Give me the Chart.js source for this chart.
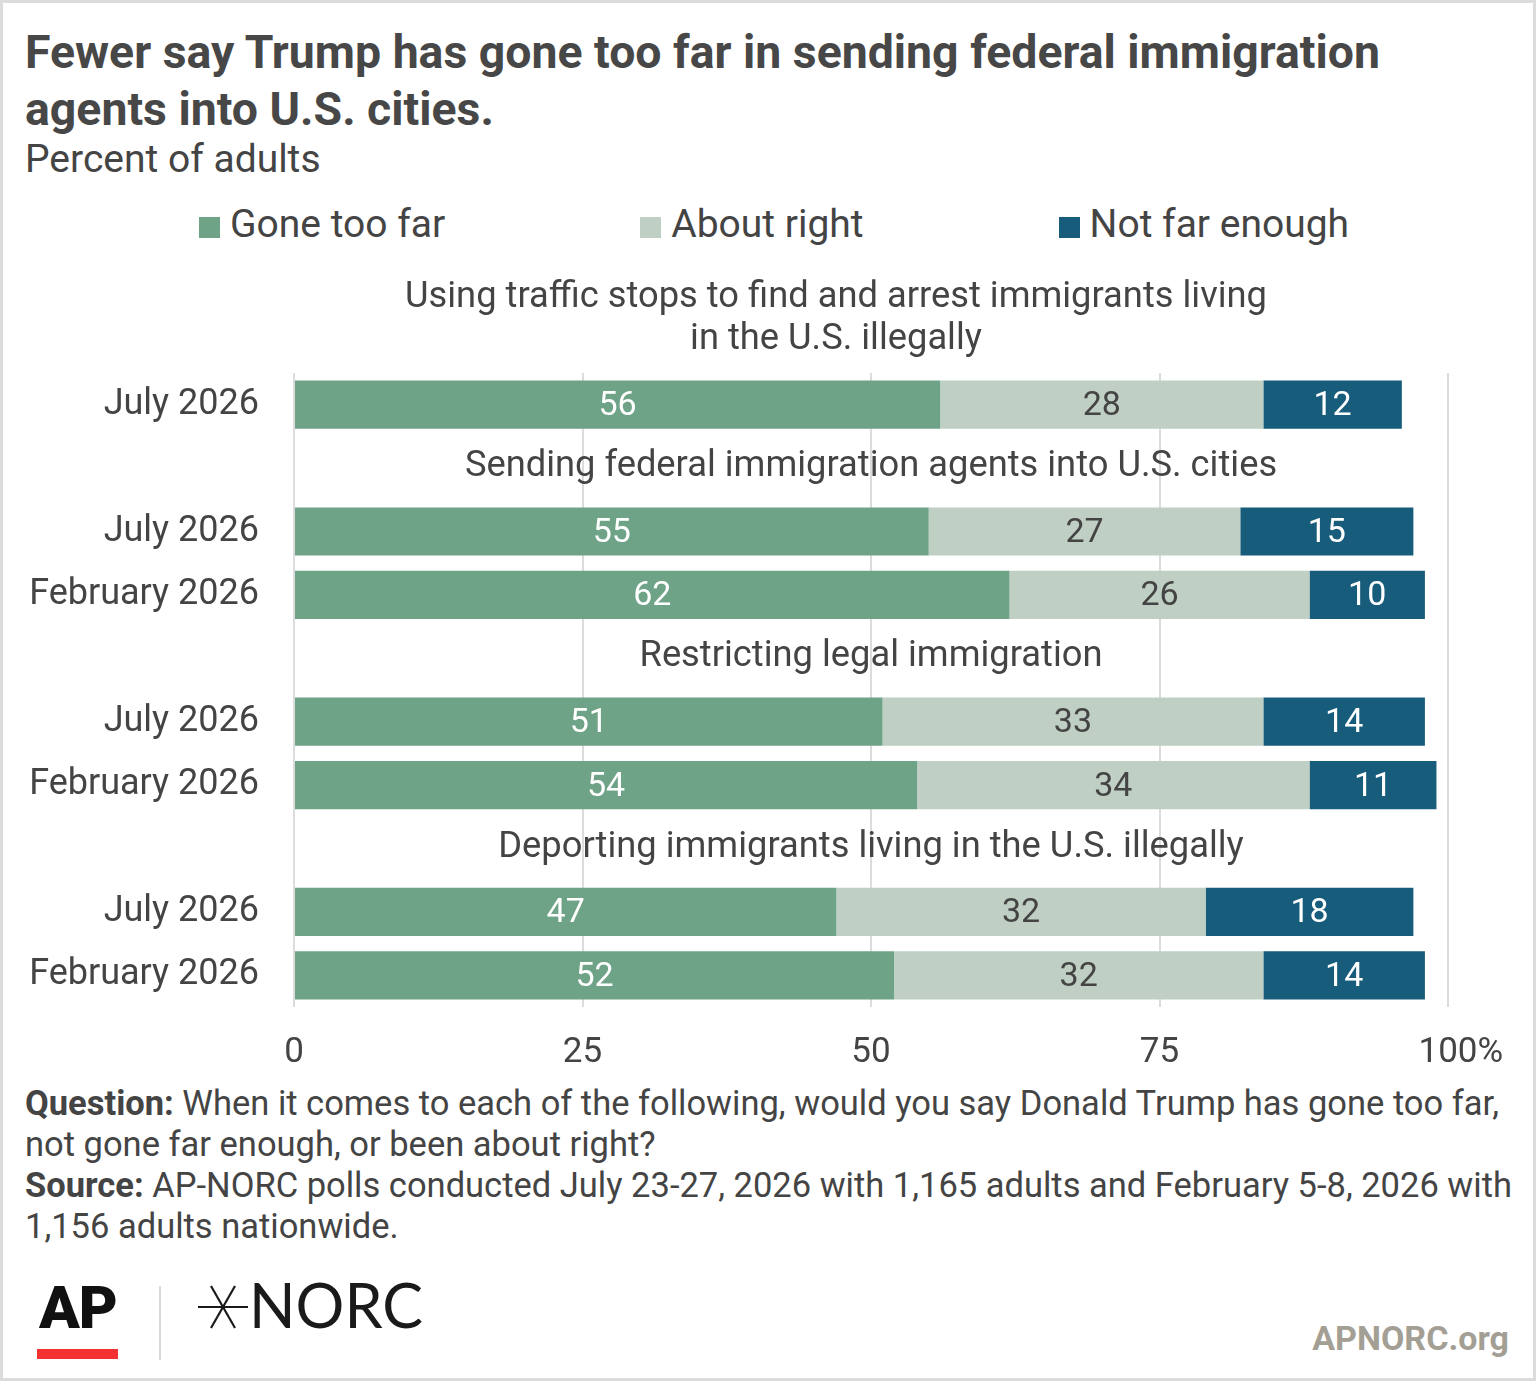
<!DOCTYPE html>
<html>
<head>
    <title>Fewer say Trump has gone too far</title>
    <script src="https://cdn.jsdelivr.net/npm/chart.js"></script>
    <style>
        body {
            margin: 0;
            background: #fff;
            font-family: Roboto, sans-serif;
            color: #444;
        }

        #card {
            position: relative;
            width: 1536px;
            height: 1381px;
            overflow: hidden;
            background: #fff;
        }

        #frame {
            position: absolute;
            left: 0; top: 0; right: 0; bottom: 0;
            border: 3px solid #dcdcdc;
            box-sizing: border-box;
            pointer-events: none;
        }

        h1 {
            position: absolute;
            left: 25px;
            top: 24px;
            margin: 0;
            font-size: 46.4px;
            line-height: 57px;
            font-weight: 700;
            color: #474747;
            white-space: nowrap;
        }

        .sub {
            position: absolute;
            left: 25px;
            top: 137px;
            font-size: 39px;
            line-height: 44px;
        }

        #legend {
            position: absolute;
            top: 202px;
            left: 199px;
            display: flex;
            gap: 195px;
            font-size: 39px;
            line-height: 44px;
            white-space: nowrap;
        }

        #legend span.box {
            display: inline-block;
            width: 21px;
            height: 21px;
            margin-right: 10px;
            vertical-align: -1px;
        }

        #chart {
            position: absolute;
            left: 0;
            top: 270px;
        }

        .notes {
            position: absolute;
            left: 25px;
            top: 1083px;
            font-size: 34.5px;
            line-height: 41px;
            white-space: nowrap;
        }

        .notes b { font-weight: 700; }

        .ap {
            position: absolute;
            left: 39px;
            top: 1278px;
            font-size: 60px;
            line-height: 60px;
            font-weight: 900;
            letter-spacing: -1px;
            color: #111;
        }

        .apbar {
            position: absolute;
            left: 37px;
            top: 1349px;
            width: 81px;
            height: 10px;
            background: #f43131;
        }

        .vline {
            position: absolute;
            left: 159px;
            top: 1286px;
            width: 2px;
            height: 74px;
            background: #d8d8d8;
        }

        .star {
            position: absolute;
            left: 198px;
            top: 1285px;
        }

        .norc {
            position: absolute;
            left: 249px;
            top: 1274px;
            font-family: Lato, sans-serif;
            font-size: 61px;
            line-height: 61px;
            color: #1a1a1a;
        }

        .site {
            position: absolute;
            right: 27px;
            top: 1318px;
            font-size: 34px;
            line-height: 40px;
            font-weight: 700;
            color: #a49f95;
        }
    </style>
</head>
<body>
<div id="card">
    <h1>Fewer say Trump has gone too far in sending federal immigration<br>agents into U.S. cities.</h1>
    <div class="sub">Percent of adults</div>
    <div id="legend"></div>
    <canvas id="chart" width="1536" height="813"></canvas>
    <div class="notes">
        <b>Question:</b> When it comes to each of the following, would you say Donald Trump has gone too far,<br>
        not gone far enough, or been about right?<br>
        <b>Source:</b> AP-NORC polls conducted July 23-27, 2026 with 1,165 adults and February 5-8, 2026 with<br>
        1,156 adults nationwide.
    </div>
    <div class="ap">AP</div>
    <div class="apbar"></div>
    <div class="vline"></div>
    <svg class="star" width="50" height="44" viewBox="0 0 50 44">
        <line x1="0" y1="22" x2="50" y2="22" stroke="#1a1a1a" stroke-width="2.2"/>
        <line x1="13" y1="1" x2="37" y2="43" stroke="#1a1a1a" stroke-width="2.2"/>
        <line x1="37" y1="1" x2="13" y2="43" stroke="#1a1a1a" stroke-width="2.2"/>
    </svg>
    <div class="norc">NORC</div>
    <div class="site">APNORC.org</div>
    <div id="frame"></div>
</div>

<script>
    // topics (group headings), one line per entry
    var topics = [
        ['Using traffic stops to find and arrest immigrants living', 'in the U.S. illegally'],
        ['Sending federal immigration agents into U.S. cities'],
        ['Restricting legal immigration'],
        ['Deporting immigrants living in the U.S. illegally']
    ];
    var waveLabels = ['July 2026', 'July 2026', 'February 2026', 'July 2026', 'February 2026', 'July 2026', 'February 2026'];
    var waveTopic = [0, 1, 1, 2, 2, 3, 3];
    var goneTooFar = [56, 55, 62, 51, 54, 47, 52];
    var aboutRight = [28, 27, 26, 33, 34, 32, 32];
    var notFarEnough = [12, 15, 10, 14, 11, 18, 14];

    var seriesNames = ['Gone too far', 'About right', 'Not far enough'];
    var seriesColors = ['#6fa387', '#bfcfc3', '#185c7c'];
    var labelColors = ['#ffffff', '#444444', '#ffffff'];
    var xTicks = [0, 25, 50, 75, 100];

    // rows: a blank row is put in front of each topic (except the first, which sits above the plot)
    var rows = [], headRows = [], s1 = [], s2 = [], s3 = [];
    var lastTopic = 0;
    headRows.push({ row: -1, topic: 0 });
    for (var i = 0; i < waveLabels.length; i++) {
        if (waveTopic[i] !== lastTopic) {
            headRows.push({ row: rows.length, topic: waveTopic[i] });
            rows.push('');
            s1.push(null); s2.push(null); s3.push(null);
            lastTopic = waveTopic[i];
        }
        rows.push(waveLabels[i]);
        s1.push(goneTooFar[i]);
        s2.push(aboutRight[i]);
        s3.push(notFarEnough[i]);
    }

    // html legend
    var legend = document.getElementById('legend');
    seriesNames.forEach(function (name, k) {
        var item = document.createElement('div');
        item.innerHTML = '<span class="box" style="background:' + seriesColors[k] + '"></span>' + name;
        legend.appendChild(item);
    });

    var overlay = {
        id: 'overlay',
        afterDatasetsDraw: function (chart) {
            var ctx = chart.ctx;
            var area = chart.chartArea;
            var ys = chart.scales.y;
            var xs = chart.scales.x;
            ctx.save();

            // values inside the segments
            ctx.font = '34px Roboto';
            ctx.textAlign = 'center';
            ctx.textBaseline = 'middle';
            chart.data.datasets.forEach(function (ds, di) {
                chart.getDatasetMeta(di).data.forEach(function (bar, j) {
                    var v = ds.data[j];
                    if (v === null) return;
                    var p = bar.getProps(['x', 'base', 'y'], true);
                    ctx.fillStyle = labelColors[di];
                    ctx.fillText(v, (p.x + p.base) / 2, p.y + 2);
                });
            });

            // topic headings
            ctx.font = '36.3px Roboto';
            ctx.fillStyle = '#444';
            var cx = (area.left + area.right) / 2;
            headRows.forEach(function (h) {
                var lines = topics[h.topic];
                var y = ys.getPixelForValue(h.row) - 1;
                var x = h.row < 0 ? cx - 35 : cx;
                for (var n = lines.length - 1; n >= 0; n--) {
                    ctx.fillText(lines[n], x, y - (lines.length - 1 - n) * 42);
                }
            });

            // % after the last tick
            ctx.font = '35px Roboto';
            ctx.textAlign = 'left';
            var w = ctx.measureText('100').width;
            ctx.fillText('%', xs.getPixelForValue(100) + w / 2, xs.top + 25 + 35 * 1.2 / 2);
            ctx.restore();
        }
    };

    Chart.defaults.font.family = 'Roboto';

    new Chart(document.getElementById('chart'), {
        type: 'bar',
        data: {
            labels: rows,
            datasets: [
                { label: seriesNames[0], data: s1, backgroundColor: seriesColors[0] },
                { label: seriesNames[1], data: s2, backgroundColor: seriesColors[1] },
                { label: seriesNames[2], data: s3, backgroundColor: seriesColors[2] }
            ]
        },
        options: {
            responsive: false,
            animation: false,
            indexAxis: 'y',
            barPercentage: 0.76,
            categoryPercentage: 1,
            layout: { padding: { top: 103, right: 88, left: 0, bottom: 0 } },
            plugins: {
                legend: { display: false },
                tooltip: { enabled: false }
            },
            scales: {
                x: {
                    stacked: true,
                    min: 0,
                    max: 100,
                    grid: { color: '#dcdcdc', lineWidth: 2, drawTicks: false },
                    border: { display: false },
                    afterBuildTicks: function (s) {
                        s.ticks = xTicks.map(function (v) { return { value: v }; });
                    },
                    ticks: { padding: 25, color: '#444', font: { size: 35 }, maxRotation: 0 },
                    afterFit: function (s) { s.height = 76; }
                },
                y: {
                    stacked: true,
                    grid: { display: false, drawTicks: false },
                    border: { display: false },
                    ticks: { padding: 35, color: '#444', font: { size: 36 }, autoSkip: false },
                    afterFit: function (s) { s.width = 294; }
                }
            }
        },
        plugins: [overlay]
    });
</script>
</body>
</html>
